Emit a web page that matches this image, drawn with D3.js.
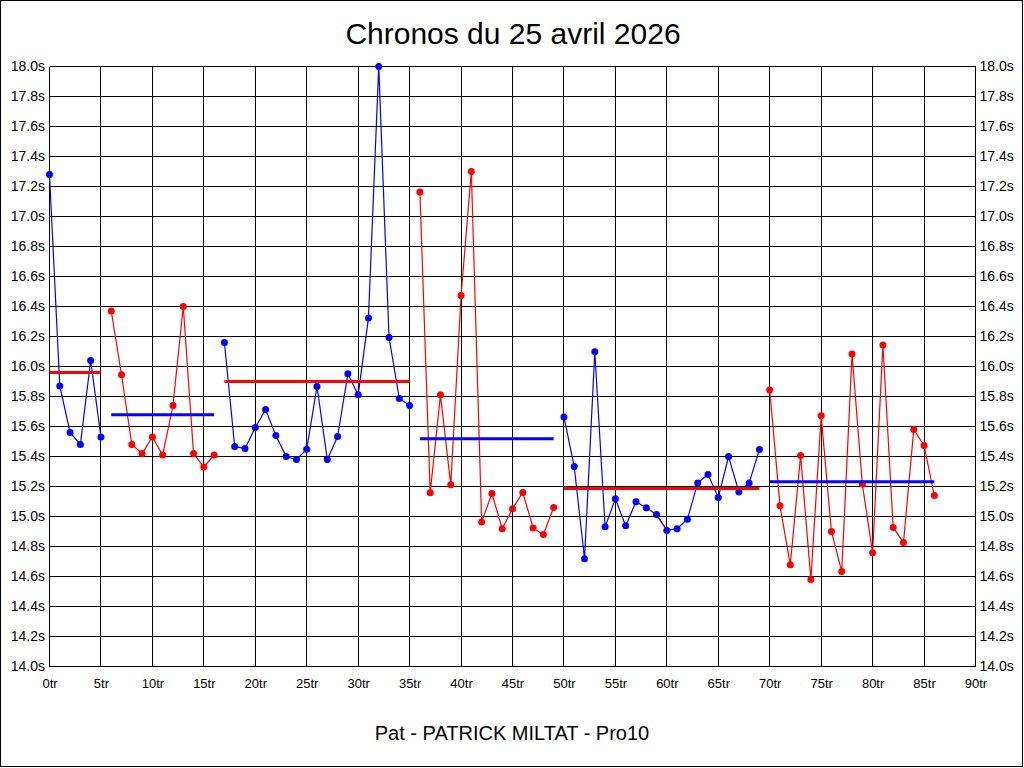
<!DOCTYPE html>
<html>
<head>
<meta charset="utf-8">
<script src="https://cdn.jsdelivr.net/npm/d3@7"></script>
<style>
  html, body { margin: 0; padding: 0; background: #fff; }
  svg { display: block; }
  text { font-family: "Liberation Sans", Arial, sans-serif; fill: #000; }
</style>
</head>
<body>
<svg id="chart" width="1024" height="768"></svg>
<script>
// ---- data ----
const title = "Chronos du 25 avril 2026";
const subtitle = "Pat - PATRICK MILTAT - Pro10";

// first lap of each run (stint)
const stintStartLaps = [0, 6, 17, 36, 50, 70];
// lap times of each stint, in seconds (as plotted; values above 18.0s are clipped by the chart)
const stint1Times = [17.28, 15.87, 15.56, 15.48, 16.04, 15.53];
const stint2Times = [16.37, 15.945, 15.48, 15.42, 15.53, 15.41, 15.74, 16.40, 15.42, 15.33, 15.41];
const stint3Times = [16.16, 15.467, 15.453, 15.593, 15.713, 15.54, 15.40, 15.38, 15.449, 15.867,
                     15.38, 15.533, 15.951, 15.811, 16.324, 18.0, 16.193, 15.787, 15.74];
const stint4Times = [17.164, 15.158, 15.811, 15.211, 16.473, 17.30, 14.964, 15.153, 14.918, 15.051,
                     15.16, 14.924, 14.88, 15.06];
const stint5Times = [15.664, 15.333, 14.718, 16.098, 14.931, 15.118, 14.938, 15.098, 15.058, 15.013,
                     14.907, 14.918, 14.982, 15.224, 15.28, 15.127, 15.40, 15.164, 15.224, 15.447];
const stint6Times = [15.844, 15.071, 14.678, 15.407, 14.58, 15.671, 14.90, 14.633, 16.084, 15.216,
                     14.758, 16.144, 14.927, 14.827, 15.58, 15.473, 15.14];
// average lap time of each stint
const stintMeans = [15.96, 15.678, 15.90, 15.518, 15.187, 15.231];
const stintColors = ["#0000ff", "#ff0000", "#0000ff", "#ff0000", "#0000ff", "#ff0000"];
const meanColors  = ["#ff0000", "#0000ff", "#ff0000", "#0000ff", "#ff0000", "#0000ff"];

const yTickValues = [14.0, 14.2, 14.4, 14.6, 14.8, 15.0, 15.2, 15.4, 15.6, 15.8, 16.0,
                     16.2, 16.4, 16.6, 16.8, 17.0, 17.2, 17.4, 17.6, 17.8, 18.0];
const xTickValues = [0, 5, 10, 15, 20, 25, 30, 35, 40, 45, 50, 55, 60, 65, 70, 75, 80, 85, 90];

const stints = [stint1Times, stint2Times, stint3Times, stint4Times, stint5Times, stint6Times]
  .map((times, i) => ({
    color: stintColors[i],
    meanColor: meanColors[i],
    mean: stintMeans[i],
    points: times.map((t, k) => ({ lap: stintStartLaps[i] + k, t: t }))
  }));

// ---- layout ----
const svg = d3.select("#chart");
const plot = { left: 49.5, right: 975.5, top: 66.5, bottom: 666.5 };

const x = d3.scaleLinear().domain([0, 90]).range([plot.left, plot.right]);
const y = d3.scaleLinear().domain([14, 18]).range([plot.bottom, plot.top]);

// outer frame
svg.append("rect")
  .attr("x", 0.5).attr("y", 0.5).attr("width", 1022).attr("height", 766)
  .attr("fill", "none").attr("stroke", "#000").attr("stroke-width", 1);

// title
svg.append("text")
  .attr("x", 513).attr("y", 44)
  .attr("text-anchor", "middle")
  .style("font-size", "30px")
  .text(title);

svg.append("text")
  .attr("x", 512).attr("y", 740)
  .attr("text-anchor", "middle")
  .style("font-size", "20px")
  .text(subtitle);

// grid
const grid = svg.append("g").attr("shape-rendering", "crispEdges");
grid.selectAll("line.h").data(yTickValues).join("line")
  .attr("class", "h")
  .attr("x1", plot.left).attr("x2", plot.right)
  .attr("y1", d => Math.round(y(d) - 0.5) + 0.5).attr("y2", d => Math.round(y(d) - 0.5) + 0.5)
  .attr("stroke", "#000").attr("stroke-width", 1);
grid.selectAll("line.v").data(xTickValues).join("line")
  .attr("class", "v")
  .attr("y1", plot.top).attr("y2", plot.bottom)
  .attr("x1", d => Math.round(x(d) - 0.5) + 0.5).attr("x2", d => Math.round(x(d) - 0.5) + 0.5)
  .attr("stroke", "#000").attr("stroke-width", 1);

// axes (labels only; grid already drawn)
const fmtY = v => v.toFixed(1) + "s";
const leftAxis = d3.axisLeft(y).tickValues(yTickValues).tickFormat(fmtY).tickSize(0).tickPadding(4);
const rightAxis = d3.axisRight(y).tickValues(yTickValues).tickFormat(fmtY).tickSize(0).tickPadding(4);
const bottomAxis = d3.axisBottom(x).tickValues(xTickValues).tickFormat(d => d + "tr").tickSize(0).tickPadding(12);

function styleAxis(g, size) {
  g.select(".domain").remove();
  g.selectAll("text").style("font-size", size).style("font-family", "\"Liberation Sans\", Arial, sans-serif").attr("fill", "#000");
}
svg.append("g").attr("transform", `translate(${plot.left - 0.5},0)`).call(leftAxis).call(g => styleAxis(g, "14px"));
svg.append("g").attr("transform", `translate(${plot.right},0)`).call(rightAxis).call(g => styleAxis(g, "14px"));
svg.append("g").attr("transform", `translate(0,${plot.bottom})`).call(bottomAxis).call(g => styleAxis(g, "13px"));

// series
const line = d3.line().x(d => x(d.lap)).y(d => y(d.t));
const series = svg.append("g");
stints.forEach(s => {
  const g = series.append("g");
  g.append("path")
    .datum(s.points)
    .attr("d", line)
    .attr("fill", "none")
    .attr("stroke", s.color)
    .attr("stroke-width", 1.2);
  g.selectAll("circle").data(s.points).join("circle")
    .attr("cx", d => x(d.lap)).attr("cy", d => y(d.t))
    .attr("r", 3.5)
    .attr("fill", s.color);
});

// mean line of each stint
stints.forEach(s => {
  const first = s.points[0].lap, last = s.points[s.points.length - 1].lap;
  series.append("line")
    .attr("x1", x(first)).attr("x2", x(last))
    .attr("y1", y(s.mean)).attr("y2", y(s.mean))
    .attr("stroke", s.meanColor)
    .attr("stroke-width", 3);
});
</script>
</body>
</html>
